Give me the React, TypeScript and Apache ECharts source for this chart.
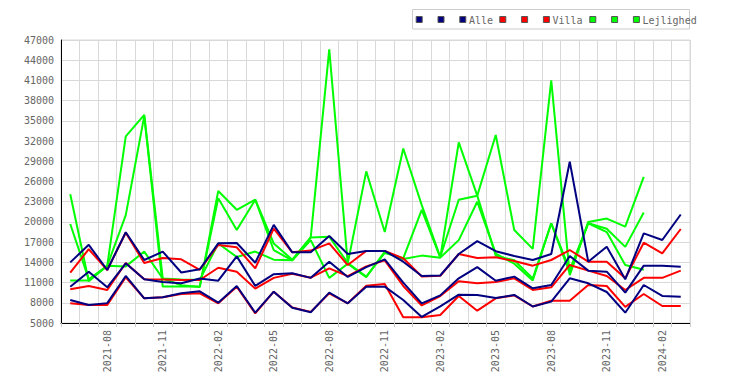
import React, { useEffect, useRef } from "react";
import * as echarts from "echarts";

const months = [
  "2021-06", "2021-07", "2021-08", "2021-09", "2021-10", "2021-11", "2021-12",
  "2022-01", "2022-02", "2022-03", "2022-04", "2022-05", "2022-06", "2022-07", "2022-08", "2022-09", "2022-10", "2022-11", "2022-12",
  "2023-01", "2023-02", "2023-03", "2023-04", "2023-05", "2023-06", "2023-07", "2023-08", "2023-09", "2023-10", "2023-11", "2023-12",
  "2024-01", "2024-02", "2024-03",
];

const alleHigh = [14000, 16600, 12870, 18460, 14350, 15590, 12500, 12965, 16820, 16870, 13950, 19570, 15490, 15490, 17910, 15240, 15700, 15700, 14100, 11980, 12050, 15240, 17150, 15660, 14940, 14350, 15240, 28940, 14100, 16330, 11480, 18300, 17320, 21100];
const alleMid = [10390, 12620, 10290, 13855, 11480, 11100, 10890, 11600, 11280, 14890, 10500, 12250, 12370, 11700, 14100, 11830, 13300, 14450, 11000, 7920, 9100, 11630, 13300, 11280, 11880, 10150, 10640, 14940, 12770, 12620, 9500, 13510, 13510, 13360];
const alleLow = [8410, 7670, 7950, 11980, 8660, 8810, 9400, 9700, 8020, 10490, 6530, 9650, 7250, 6600, 9500, 7920, 10390, 10390, 8410, 5900, 7470, 9200, 9160, 8700, 9160, 7450, 8170, 11630, 10890, 9600, 6530, 10640, 9010, 8910];

const villaHigh = [12470, 15950, 12870, 18400, 13900, 14650, 14450, 12900, 16580, 16230, 13110, 19000, 15490, 15750, 16820, 13600, 15700, 15700, 14600, 11900, 12000, 15240, 14650, 14750, 14200, 13510, 14350, 15830, 14100, 14100, 11630, 16920, 15340, 18950];
const villaMid = [10000, 10490, 9900, 13900, 11480, 11450, 11400, 11380, 13200, 12620, 10100, 11700, 12300, 11730, 13110, 11950, 13400, 14300, 10500, 7600, 9000, 11200, 10900, 11100, 11630, 9900, 10300, 13610, 12770, 11980, 9900, 11700, 11700, 12770];
const villaLow = [7920, 7670, 7670, 11780, 8660, 8810, 9300, 9400, 7920, 10390, 6430, 9650, 7300, 6650, 9400, 7920, 10540, 10790, 5840, 5840, 6190, 9010, 6830, 8660, 9100, 7450, 8310, 8310, 10640, 10490, 7400, 9300, 7520, 7520];

const lejHigh = [24100, 11200, 13500, 32700, 35900, 11600, 10600, 10340, 24600, 21800, 23300, 16800, 14400, 17700, 45600, 13850, 27500, 18500, 30900, 22500, 14800, 23300, 23900, 32900, 18800, 16000, 41000, 12100, 20000, 20500, 19300, 26700, null, null];
const lejMid = [19700, 11500, 13500, 21000, 35700, 10400, 10400, 10400, 23500, 18800, 23300, 15800, 14300, 17700, 17800, 13900, 11900, 15400, 14600, 21800, 14700, 31800, 23900, 15000, 14300, 11600, 19800, 12900, 19800, 19000, 16300, 21400, null, null];
const lejLow = [11300, 11300, 13500, 13400, 15600, 11600, 11450, 11400, 16800, 14800, 15600, 14400, 14300, 17300, 11700, 13800, 11800, 15600, 14500, 15000, 14700, 17300, 23000, 15300, 13800, 11300, 19800, 12400, 19800, 18500, 13600, 12900, null, null];

const groups = [
  { label: "Alle", color: "#000080", data: [alleHigh, alleMid, alleLow] },
  { label: "Villa", color: "#ff0000", data: [villaHigh, villaMid, villaLow] },
  { label: "Lejlighed", color: "#00ff00", data: [lejHigh, lejMid, lejLow] },
];

const FONT = '"DejaVu Sans Mono", monospace';
const GRID = "#d9d9d9";
const TXT = "#666666";

export default function App() {
  const ref = useRef<HTMLDivElement>(null);

  useEffect(() => {
    const chart = echarts.init(ref.current!, null, { renderer: "svg" });

    const series: any[] = [];
    // draw Lejlighed first, Alle last (on top)
    [...groups].reverse().forEach((g) => {
      g.data.forEach((d, k) => {
        series.push({
          name: g.label + (k === 2 ? "" : "#" + k),
          type: "line",
          data: d,
          showSymbol: false,
          symbol: "none",
          connectNulls: false,
          lineStyle: { color: g.color, width: 2 },
          itemStyle: { color: g.color },
          emphasis: { disabled: true },
        });
      });
    });

    // legend drawn as graphic (box narrower than text like the reference)
    const legendEls: any[] = [
      {
        type: "rect",
        shape: { x: 412.5, y: 9.5, width: 277, height: 19.5 },
        style: { fill: "#fff", stroke: "#cccccc", lineWidth: 1 },
      },
    ];
    const groupX = [415.7, 499.3, 589.3];
    groups.forEach((g, gi) => {
      for (let k = 0; k < 3; k++) {
        legendEls.push({
          type: "rect",
          shape: { x: groupX[gi] + k * 21.8 + 0.5, y: 16.5, width: 6, height: 6 },
          style: { fill: g.color, stroke: "#555", lineWidth: 1 },
        });
      }
      legendEls.push({
        type: "text",
        x: groupX[gi] + 2 * 21.8 + 9.6,
        y: 20,
        style: {
          text: g.label,
          fill: TXT,
          font: `10px ${FONT}`,
          verticalAlign: "middle",
          align: "left",
        },
      });
    });

    chart.setOption({
      animation: false,
      backgroundColor: "#ffffff",
      grid: {
        left: 61,
        right: 60,
        top: 40,
        bottom: 62,
        show: true,
        borderColor: GRID,
        borderWidth: 1,
      },
      xAxis: {
        type: "category",
        data: months,
        boundaryGap: true,
        axisLine: { show: true, lineStyle: { color: "#000", width: 1 } },
        axisTick: { show: true, interval: 0, length: 4, lineStyle: { color: "#cccccc" } },
        axisLabel: {
          interval: (i: number) => i % 3 === 2,
          rotate: 90,
          fontFamily: FONT,
          fontSize: 10,
          color: TXT,
          margin: 7,
        },
        splitLine: { show: true, interval: 0, lineStyle: { color: GRID, width: 1 } },
      },
      yAxis: {
        type: "value",
        min: 5000,
        max: 47000,
        interval: 3000,
        axisLine: { show: true, lineStyle: { color: "#000", width: 1 } },
        axisTick: { show: false },
        axisLabel: {
          fontFamily: FONT,
          fontSize: 10,
          color: TXT,
          margin: 7,
          formatter: (v: number) => String(v),
        },
        splitLine: { show: true, lineStyle: { color: GRID, width: 1 } },
      },
      graphic: legendEls,
      series,
    });

    return () => chart.dispose();
  }, []);

  return (
    <div
      ref={ref}
      style={{ position: "fixed", left: 0, top: 0, width: 750, height: 385, background: "#fff" }}
    />
  );
}
